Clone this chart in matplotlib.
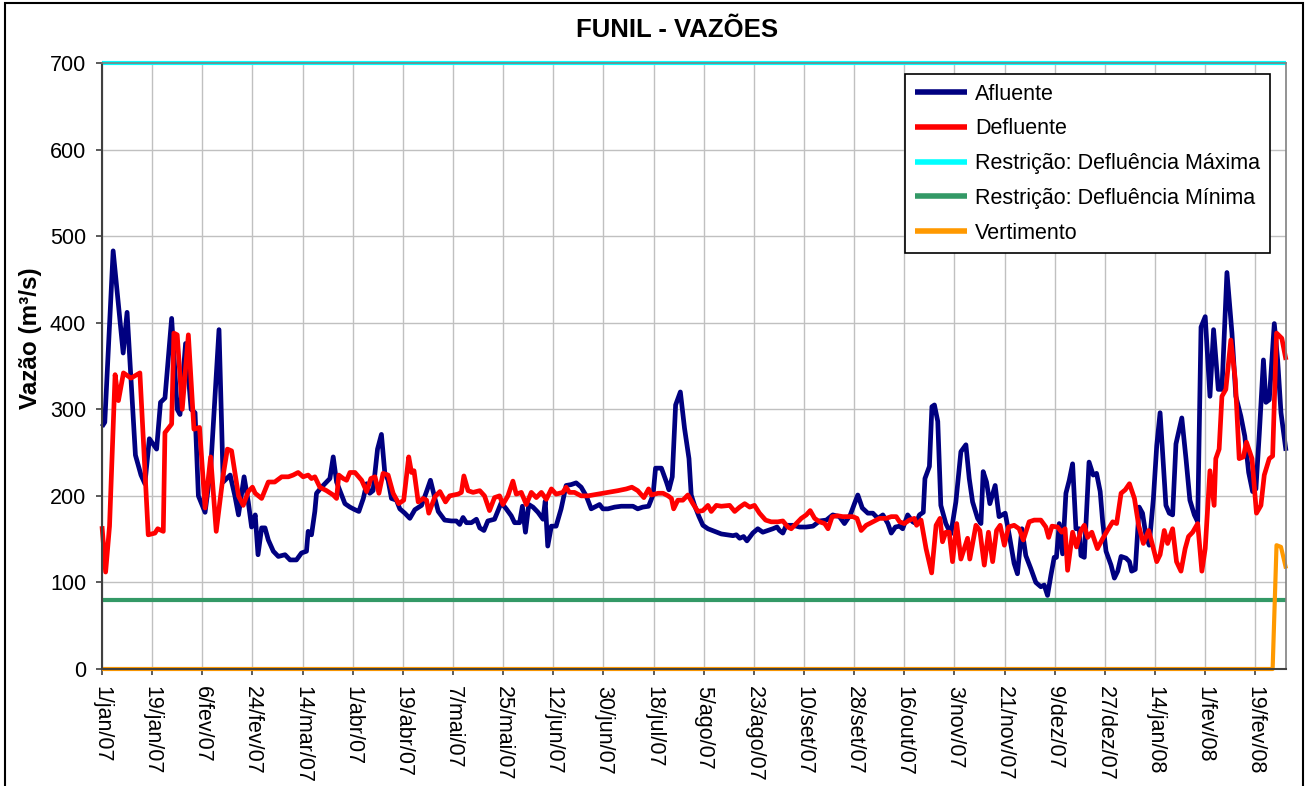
# Funil - vazões afluente / defluente com restrições (jan/07 a fev/08)
import matplotlib
matplotlib.use('Agg')
import matplotlib.pyplot as plt
from matplotlib.patches import Rectangle

plt.rcParams['font.family'] = ['Liberation Sans', 'DejaVu Sans']

# dias contados a partir de 1/jan/07
dias_afluente = [0, 1, 4, 7.6, 9, 12, 14, 15.4, 17, 19.6, 21, 22.6, 25, 27, 28, 30, 32, 33.4, 34.6, 37,
                 39, 42, 43.5, 46, 47.7, 49, 51, 52.5, 53.7, 55, 56, 57.3, 58.5, 59.7, 61.5, 63.3, 65.7,
                 67.5, 69.8, 71.6, 73.4, 74, 75.2, 76.4, 77, 78.8, 80.6, 81.8, 83, 84.2, 86, 87.2, 89,
                 90.8, 92.2, 93.8, 95, 96.1, 97.3, 98.9, 100.3, 101.5, 102.7, 103.9, 105.7, 106.9,
                 108.7, 110.5, 112.3, 114.7, 116.5, 117.9, 119.5, 120.7, 123, 125.4, 127.2, 128.4,
                 129.6, 130.8, 132.6, 134.4, 135.6, 137.1, 138.5, 140.9, 143.3, 145.1, 146.9, 148.1,
                 149.9, 150.9, 152, 153.2, 154.7, 156.5, 158.3, 159.1, 160, 161.3, 163, 164.8, 166.6,
                 168.4, 170.2, 172, 173.8, 175.6, 177.4, 178.6, 179.8, 181.6, 184, 186.4, 188.8,
                 190.6, 192.3, 194.1, 196.2, 197.8, 198.7, 200.8, 202.6, 203.5, 204.7, 205.9, 207.6,
                 209.1, 210.7, 211.5, 212.7, 214.3, 215.7, 217.5, 219.9, 222.3, 224.3, 226.5, 227.7,
                 228.9, 230.3, 231.5, 233.6, 235.4, 237.2, 239, 240.8, 242.3, 243.2, 244.4, 245.6,
                 248, 250.4, 252.8, 255.2, 257.6, 260, 262.3, 264.7, 266.5, 268.6, 270.1, 271.3,
                 272.9, 274.9, 276.7, 278.5, 280.3, 282.1, 283.3, 284.8, 286.3, 287.4, 289.2, 291,
                 292.2, 293.4, 294.8, 295.4, 297, 297.9, 298.8, 300, 301.1, 302.9, 304.7, 306.5,
                 308.3, 310.1, 311.3, 312.5, 314.3, 315.5, 316.3, 317.5, 318.7, 320.6, 322, 324.2,
                 325.7, 327.4, 328.6, 330.2, 331.6, 333.4, 335.2, 337, 338.2, 339.4, 340.6, 341.8,
                 342.6, 343.6, 344.8, 346, 347.2, 348.4, 349.6, 350.8, 351.4, 352.6, 354.3, 355.8,
                 357, 358.3, 359.2, 360.4, 362.2, 363.4, 364.6, 365.8, 367.6, 368.8, 369.6, 370.9,
                 372.3, 373.5, 374.7, 375.9, 377.4, 378.6, 379.8, 381, 381.9, 383.1, 384.3, 385.5,
                 387.6, 389.1, 390.5, 392.1, 393.3, 394.5, 396, 397.7, 399, 400.7, 402, 403.8, 405.6,
                 407, 408.8, 410.2, 411.6, 413, 414.2, 415.4, 416.9, 417.8, 419, 420.8, 422, 423.2, 425]
afluente = [280, 285, 483, 365, 412, 247, 224, 214, 266, 254, 308, 313, 405, 300, 294, 376, 300, 296, 200, 181,
            231, 392, 216, 224, 200, 178, 222, 193, 164, 178, 132, 163, 163, 149, 136, 130, 132,
            126, 126, 134, 136, 159, 155, 182, 203, 210, 216, 220, 245, 216, 201, 191, 187,
            184, 182, 197, 214, 203, 206, 254, 271, 227, 218, 197, 195, 185,
            180, 174, 184, 189, 205, 218, 197, 182, 172, 171, 171, 167,
            175, 169, 169, 173, 163, 160, 171, 173, 192, 185, 177, 169,
            169, 188, 158, 190, 187, 181, 173, 194, 142, 165, 165, 185, 212,
            213, 215, 210, 200, 185, 188, 190, 185, 185, 187, 188, 188,
            188, 185, 187, 188, 201, 232, 232, 216, 207, 222, 305, 320,
            278, 243, 201, 189, 176, 166, 162, 159, 156, 155, 154, 155,
            151, 153, 148, 157, 162, 158, 160, 162, 164, 160, 157, 166,
            166, 164, 164, 165, 171, 172, 178, 176, 168, 178, 191, 201,
            186, 180, 180, 174, 178, 168, 157, 164, 165, 162, 178, 170,
            168, 178, 181, 220, 234, 303, 305, 286, 189, 168, 156, 193,
            251, 259, 220, 193, 174, 168, 228, 216, 191, 212, 176, 180,
            154, 122, 110, 162, 131, 116, 100, 95, 97, 85, 108, 129,
            129, 168, 133, 203, 218, 237, 162, 162, 131, 129, 239, 224,
            226, 205, 170, 136, 120, 105, 113, 130, 128, 124, 113, 115,
            187, 180, 155, 143, 197, 258, 296, 235, 189, 180, 178, 260,
            290, 243, 195, 178, 170, 395, 407, 315, 392, 323, 323, 458, 388,
            315, 292, 269, 227, 205, 208, 271, 357, 308, 311, 399, 357, 296, 252]

dias_defluente = [0, 1.3, 2.7, 4.7, 5.9, 7.7, 10.4, 13.6, 16.6, 19, 20, 22, 22.6, 25, 25.8, 27, 28.8, 31, 33,
                  35, 37, 39, 41, 43.5, 45, 46.5, 49, 50.7, 52.5, 54, 55, 57.3, 59.7, 62, 64.5, 66.9,
                  68.6, 70.4, 72.2, 74, 75.2, 76.4, 78.2, 80.6, 83, 84.2, 85, 86.6, 87.8, 89, 90.8,
                  93.2, 95, 96.5, 98, 99.4, 100.9, 102.7, 104.5, 106.5, 108.3, 110.1, 111.1, 112,
                  113.5, 115.3, 116.5, 117.3, 119.5, 121.3, 123.3, 124.8, 127.8, 129, 129.9, 131.4,
                  133.2, 135.6, 137.3, 139.1, 140.9, 142.7, 143.9, 145.7, 147.5, 148.7, 150.5, 152.3,
                  154.1, 155.9, 157.7, 159.5, 161.3, 163, 165.4, 166.6, 167.8, 169.6, 172, 174.4, 178,
                  181.6, 185.2, 188.2, 190.2, 192.3, 194.5, 196.2, 197.2, 199.6, 201.4, 203.2, 204.4,
                  205.2, 206.7, 208.5, 210.3, 212.1, 213.9, 215.7, 217.5, 218.7, 220.5, 222.3, 225.3,
                  227.1, 228.9, 230.7, 232.5, 234.2, 236, 238.2, 240.2, 242.6, 244.4, 246.2, 247.4,
                  249.2, 251, 252.8, 254.2, 255.8, 257.6, 259.4, 260.6, 262.1, 264.1, 265.9, 267.7,
                  269.5, 271, 272.5, 274.3, 276.7, 279.1, 281.5, 283.3, 285.1, 286.3, 288, 289.8,
                  291.6, 292.4, 294, 295.8, 297.8, 299.4, 300.8, 301.7, 302.9, 304.1, 305.3, 306.8,
                  308.3, 310.7, 311.5, 313.7, 315.1, 316.7, 318.2, 319.7, 321.1, 322.4, 323.9, 325.4,
                  327.4, 329.2, 330.7, 332.8, 334.6, 337, 338.8, 339.8, 341, 343, 344.5, 345.7, 346.6,
                  348.4, 349.8, 351.4, 352.6, 353.8, 355.3, 357.3, 359.1, 360.9, 362.8, 364.2, 365.8,
                  367.3, 368.8, 370.6, 372.1, 373.8, 375.7, 377.1, 378.6, 379.8, 381.3, 382.5, 384.3,
                  385.7, 387.3, 388.8, 390, 391.5, 393.3, 394.8, 396, 397.7, 399.2, 399.8, 401, 402,
                  403.4, 405.2, 406.8, 408.2, 409.7, 410.8, 412.8, 414.4, 416, 417.2, 419, 420.2,
                  421.6, 423.5, 425]
defluente = [165, 112, 165, 340, 310, 342, 336, 342, 155, 157, 162, 159, 273, 283, 388, 386, 300, 386, 277,
             279, 186, 245, 159, 224, 254, 252, 200, 189, 205, 210, 203, 197, 216, 216, 222, 222,
             224, 227, 222, 224, 220, 222, 210, 206, 201, 197, 224, 220, 218, 227, 227,
             218, 205, 220, 222, 203, 226, 224, 203, 191, 195, 245, 227, 229,
             193, 197, 195, 180, 199, 205, 193, 200, 202, 204, 223, 206,
             204, 206, 200, 183, 198, 200, 190, 200, 217, 202, 204, 190,
             204, 198, 204, 196, 208, 202, 204, 210, 204, 204, 200, 200, 202,
             204, 206, 208, 210, 206, 198, 208, 201, 203, 203, 200, 197,
             185, 195, 195, 201, 191, 182, 183, 189, 182, 189, 188, 189,
             182, 187, 191, 187, 189, 180, 172, 170, 170, 171, 164, 162,
             168, 174, 178, 183, 174, 170, 168, 162, 176, 177, 176, 176,
             176, 174, 160, 166, 170, 174, 174, 176, 176, 170, 168, 172,
             174, 166, 172, 139, 111, 166, 174, 147, 158, 158, 124, 168,
             127, 151, 127, 166, 160, 120, 158, 124, 160, 166, 143, 164,
             166, 162, 149, 170, 172, 172, 164, 152, 165, 164, 158, 162, 114,
             158, 141, 160, 166, 152, 158, 139, 150, 160, 170, 168, 203,
             207, 214, 197, 166, 145, 160, 143, 124, 132, 160, 145, 162,
             124, 113, 139, 153, 158, 168, 113, 139, 229, 189, 243, 254, 315,
             323, 380, 334, 243, 245, 262, 243, 180, 189, 224, 243, 246,
             388, 382, 357]

dias_vertimento = [0, 420.2, 421.6, 423.2, 425]
vertimento = [0, 0, 143, 141, 116]

dias_restricao = [0, 425]
defluencia_maxima = [700, 700]
defluencia_minima = [80, 80]

ticks_dias = list(range(0, 415, 18))
rotulos_x = ['1/jan/07', '19/jan/07', '6/fev/07', '24/fev/07', '14/mar/07', '1/abr/07', '19/abr/07',
             '7/mai/07', '25/mai/07', '12/jun/07', '30/jun/07', '18/jul/07', '5/ago/07', '23/ago/07',
             '10/set/07', '28/set/07', '16/out/07', '3/nov/07', '21/nov/07', '9/dez/07', '27/dez/07',
             '14/jan/08', '1/fev/08', '19/fev/08']

W, H = 1310, 786
fig = plt.figure(figsize=(W / 100, H / 100), dpi=100)
ax = fig.add_axes([102 / W, 1 - 669 / H, (1286 - 102) / W, (669 - 63) / H])

estilo = dict(solid_joinstyle='round', solid_capstyle='butt', clip_on=False)
ax.plot(dias_afluente, afluente, color='#000080', lw=3.4, label='Afluente', **estilo)
ax.plot(dias_defluente, defluente, color='#FF0000', lw=3.4, label='Defluente', **estilo)
ax.plot(dias_restricao, defluencia_maxima, color='#00FFFF', lw=3.0,
        label='Restrição: Defluência Máxima', **estilo)
ax.plot(dias_restricao, defluencia_minima, color='#339966', lw=3.0,
        label='Restrição: Defluência Mínima', **estilo)
ax.plot(dias_vertimento, vertimento, color='#FF9900', lw=3.0, label='Vertimento', **estilo)

ax.set_xlim(0, 425)
ax.set_ylim(0, 700)
ax.set_yticks(range(0, 701, 100))
ax.set_xticks(ticks_dias)
ax.set_xticklabels(rotulos_x, rotation=-90, ha='center', va='top', fontsize=15.5)
ax.tick_params(axis='y', labelsize=15.5, length=4.5, width=1.2, pad=7, color='#404040')
ax.tick_params(axis='x', length=4.5, width=1.2, pad=8, color='#404040')

ax.grid(True, color='#c0c0c0', lw=1)
ax.set_axisbelow(True)
for lado in ['left', 'bottom']:
    ax.spines[lado].set_color('#404040')
    ax.spines[lado].set_linewidth(1.5)
for lado in ['top', 'right']:
    ax.spines[lado].set_color('#808080')
    ax.spines[lado].set_linewidth(1.2)

fig.text(677 / W, 1 - 30 / H, 'FUNIL - VAZÕES', ha='center', va='center',
         fontsize=18.5, fontweight='bold')
fig.text(30 / W, 1 - 338 / H, 'Vazão (m³/s)', ha='center', va='center', rotation=90,
         fontsize=17.5, fontweight='bold')

leg = ax.legend(loc='upper left', bbox_to_anchor=(905 / W, 1 - 74 / H), bbox_transform=fig.transFigure,
                borderaxespad=0, fontsize=15.5, handlelength=2.45, handletextpad=0.35,
                labelspacing=0.64, borderpad=0.45, fancybox=False, framealpha=1)
leg.get_frame().set_edgecolor('black')
leg.get_frame().set_linewidth(1.2)
for linha in leg.get_lines():
    linha.set_linewidth(4)

# moldura externa do gráfico
fig.patches.append(Rectangle((5 / W, -0.02), (1303 - 5) / W, 1 - 3 / H + 0.02, transform=fig.transFigure,
                             fill=False, ec='black', lw=1.5))

fig.savefig('out.png', dpi=100)
